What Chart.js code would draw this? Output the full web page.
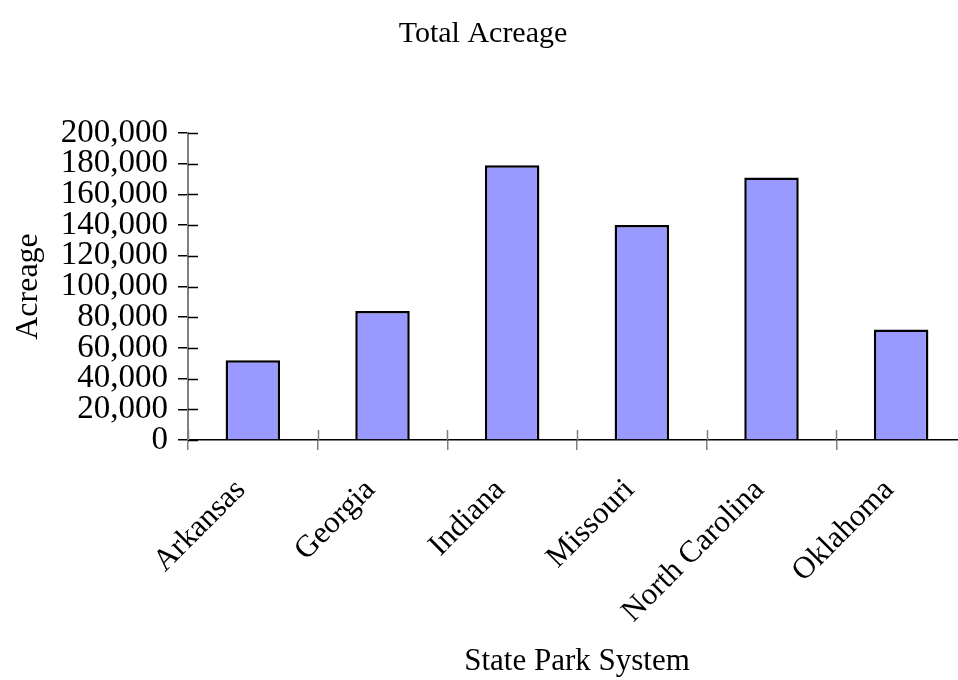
<!DOCTYPE html>
<html>
<head>
<meta charset="utf-8">
<script src="https://cdn.jsdelivr.net/npm/chart.js@4"></script>
<style>
  body { margin: 0; overflow: hidden; background: #fff; }
  #wrap { width: 966px; height: 680px; }
</style>
</head>
<body>
<div id="wrap"><canvas id="acreChart"></canvas></div>
<script>
const states = ['Arkansas', 'Georgia', 'Indiana', 'Missouri', 'North Carolina', 'Oklahoma'];
const acreage = [52000, 84000, 179000, 140000, 171000, 72000];
const yTicks = [0, 20000, 40000, 60000, 80000, 100000, 120000, 140000, 160000, 180000, 200000];

const serif = 'Liberation Serif';

// ticks in the reference cross the axis, so draw the inner half too
const innerTicks = {
    id: 'innerTicks',
    afterDraw(chart) {
        const ctx = chart.ctx;
        const x = chart.scales.x;
        const y = chart.scales.y;
        ctx.save();
        ctx.lineWidth = 1.5;
        ctx.strokeStyle = '#000';
        yTicks.forEach(v => {
            const py = Math.round(y.getPixelForValue(v)) + 0.5;
            ctx.beginPath();
            ctx.moveTo(x.left, py);
            ctx.lineTo(x.left + 10, py);
            ctx.stroke();
        });
        ctx.strokeStyle = '#808080';
        for (let i = 0; i <= states.length; i++) {
            const px = Math.round(x.getPixelForValue(i - 0.5)) + 0.5;
            ctx.beginPath();
            ctx.moveTo(px, y.bottom);
            ctx.lineTo(px, y.bottom - 10);
            ctx.stroke();
        }
        ctx.restore();
    }
};

const ctx = document.getElementById('acreChart').getContext('2d');
new Chart(ctx, {
    type: 'bar',
    data: {
        labels: states,
        datasets: [{
            label: 'Acreage',
            data: acreage,
            backgroundColor: '#9999ff',
            borderColor: '#000',
            borderWidth: 2.5,
            barPercentage: 0.42,
            categoryPercentage: 1
        }]
    },
    options: {
        responsive: true,
        maintainAspectRatio: false,
        animation: false,
        layout: { padding: 0 },
        plugins: {
            legend: { display: false },
            tooltip: { enabled: false },
            title: {
                display: true,
                text: 'Total Acreage',
                color: '#000',
                font: { family: serif, size: 30, weight: 'normal' },
                padding: { top: 16, bottom: 81 }
            }
        },
        scales: {
            x: {
                offset: true,
                grid: {
                    offset: true,
                    drawOnChartArea: false,
                    color: '#808080',
                    lineWidth: 1.5,
                    tickLength: 10
                },
                border: { color: '#000', width: 1.5 },
                ticks: {
                    color: '#000',
                    font: { family: serif, size: 31 },
                    maxRotation: 45,
                    minRotation: 45,
                    padding: 22,
                    labelOffset: -12,
                    autoSkip: false
                },
                title: {
                    display: true,
                    text: 'State Park System',
                    color: '#000',
                    font: { family: serif, size: 31 },
                    padding: { top: 0, bottom: 0 }
                },
                afterFit(scale) { scale.height = 240; }
            },
            y: {
                min: 0,
                max: 200000,
                afterBuildTicks(scale) {
                    scale.ticks = yTicks.map(v => ({ value: v }));
                },
                grid: {
                    drawOnChartArea: false,
                    color: '#000',
                    lineWidth: 1.5,
                    tickLength: 10
                },
                border: { color: '#808080', width: 2 },
                ticks: {
                    color: '#000',
                    font: { family: serif, size: 33 },
                    padding: 10,
                    autoSkip: false,
                    callback: v => v.toLocaleString('en-US')
                },
                title: {
                    display: true,
                    text: 'Acreage',
                    color: '#000',
                    font: { family: serif, size: 32 },
                    padding: { top: 9, bottom: 0 }
                },
                afterFit(scale) { scale.width = 188; }
            }
        }
    },
    plugins: [innerTicks]
});
</script>
</body>
</html>
